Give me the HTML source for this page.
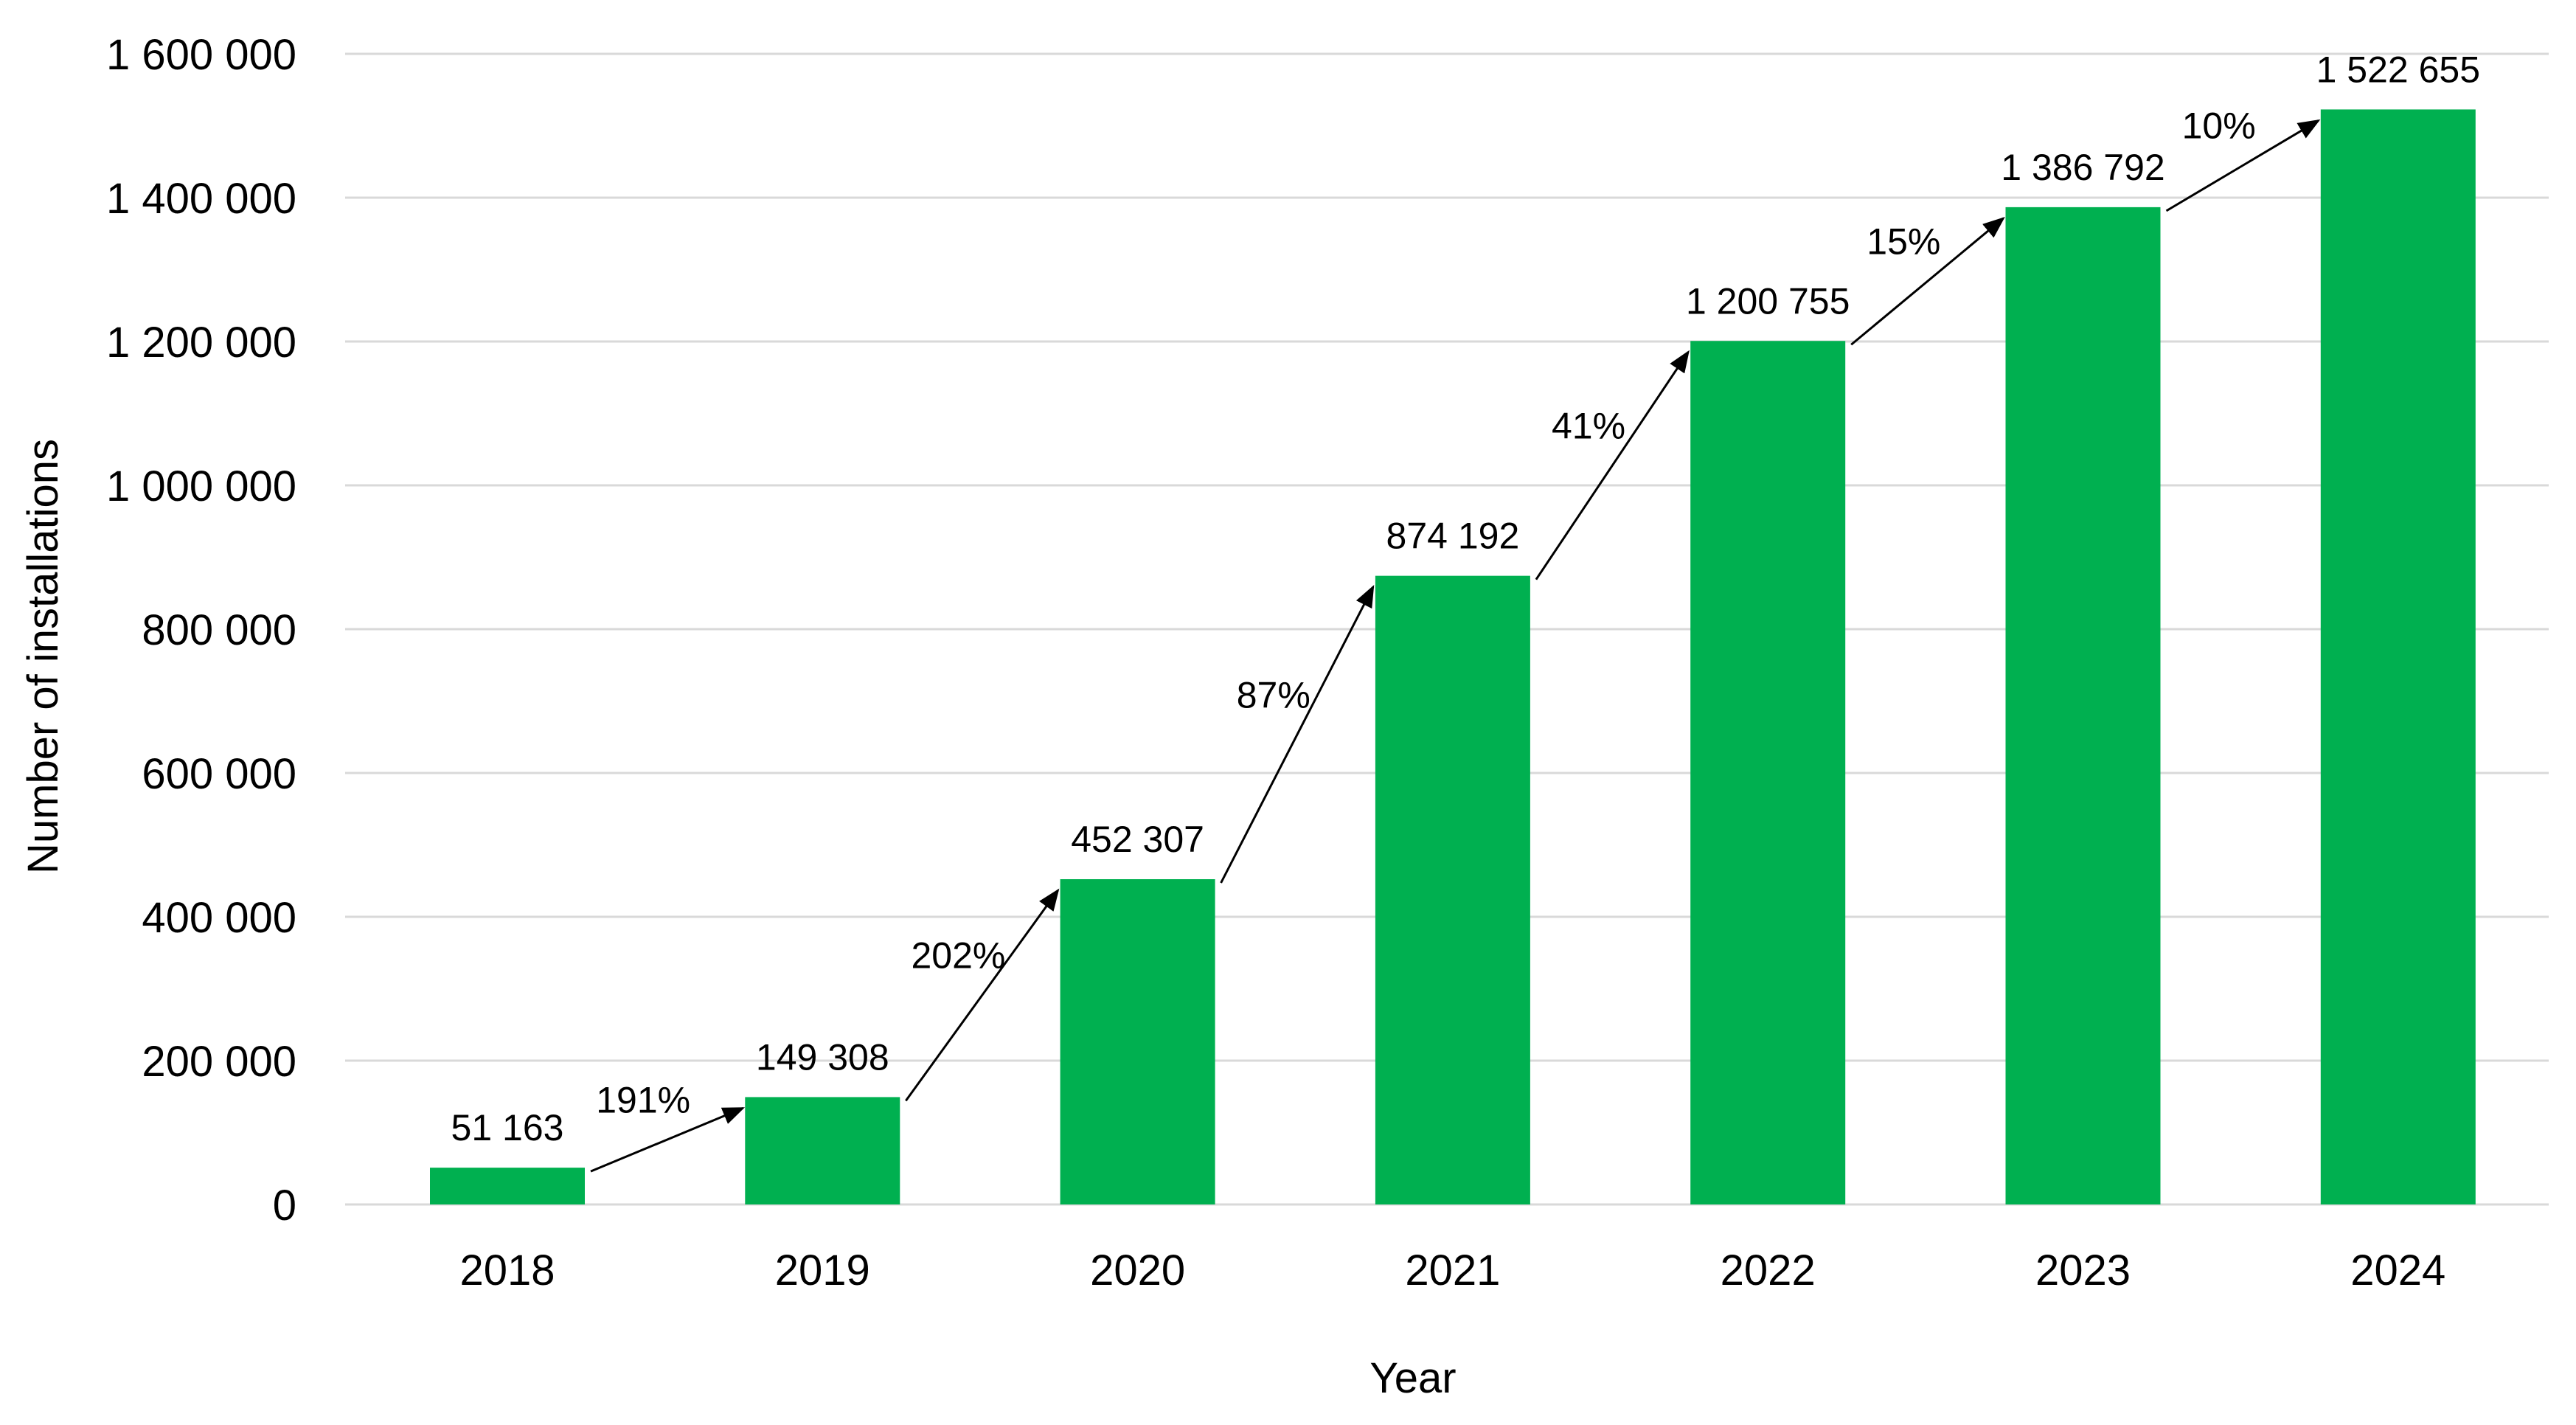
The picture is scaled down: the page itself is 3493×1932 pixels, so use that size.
<!DOCTYPE html>
<html><head><meta charset="utf-8"><style>
html,body{margin:0;padding:0;background:#fff;}
svg{display:block;font-family:"Liberation Sans",sans-serif;}
</style></head><body>
<svg id="chart" width="3493" height="1932" viewBox="0 0 3493 1932" xmlns="http://www.w3.org/2000/svg">
<defs><marker id="ah" viewBox="0 0 10 10" refX="9" refY="5" markerWidth="10" markerHeight="8" orient="auto" markerUnits="strokeWidth" preserveAspectRatio="none"><path d="M0,0 L10,5 L0,10 z" fill="#000"/></marker></defs>
<g id="grid"></g>
<g id="yticks"></g>
<g id="bars"></g>
<g id="arrows"></g>
<g id="xticks"></g>
<text x="1916" y="1888" font-size="58" text-anchor="middle" fill="#000">Year</text>
<text transform="translate(78,890) rotate(-90)" font-size="58" text-anchor="middle" fill="#000">Number of installations</text>
</svg>
<script>
const categories = ["2018","2019","2020","2021","2022","2023","2024"];
const values = [51163,149308,452307,874192,1200755,1386792,1522655];
const valueLabels = ["51 163","149 308","452 307","874 192","1 200 755","1 386 792","1 522 655"];
const growthLabels = ["191%","202%","87%","41%","15%","10%"];
const yTicks = [0,200000,400000,600000,800000,1000000,1200000,1400000,1600000];
const yTickLabels = ["0","200 000","400 000","600 000","800 000","1 000 000","1 200 000","1 400 000","1 600 000"];

const NS="http://www.w3.org/2000/svg";
const y0=1633, y1=73, yMax=1600000;
const gx0=468, gx1=3456;
const firstCenter=688, step=427.3, bw=210;
function yScale(v){return y0-(v/yMax)*(y0-y1);}
function xCenter(i){return firstCenter+i*step;}
function mk(tag,attrs,parent){const e=document.createElementNS(NS,tag);for(const k in attrs)e.setAttribute(k,attrs[k]);parent.appendChild(e);return e;}

const grid=document.getElementById('grid'), yt=document.getElementById('yticks');
yTicks.forEach((t,i)=>{
  const l=mk('line',{x1:gx0,x2:gx1,y1:yScale(t),y2:yScale(t),stroke:'#d9d9d9','stroke-width':3},grid);
  
  
  const tx=mk('text',{x:402,y:yScale(t)+21,'font-size':58,'text-anchor':'end',fill:'#000'},yt);
  tx.textContent=yTickLabels[i];
  
  
});

const bars=document.getElementById('bars'), xt=document.getElementById('xticks');
categories.forEach((c,i)=>{
  const cx=xCenter(i), top=yScale(values[i]);
  const r=mk('rect',{x:cx-bw/2,y:top,width:bw,height:y0-top,fill:'#00B050'},bars);
  
  
  const vl=mk('text',{x:cx,y:top-37,'font-size':50,'text-anchor':'middle',fill:'#000'},bars);
  vl.textContent=valueLabels[i];
  
  
  const xl=mk('text',{x:cx,y:1742,'font-size':58,'text-anchor':'middle',fill:'#000'},xt);
  xl.textContent=c;
  
  
});

const ar=document.getElementById('arrows');
growthLabels.forEach((g,i)=>{
  const xa=xCenter(i)+bw/2+8, ya=yScale(values[i])+5;
  const xb=xCenter(i+1)-bw/2-3, yb=yScale(values[i+1])+15;
  const ln=mk('line',{x1:xa,y1:ya,x2:xb,y2:yb,stroke:'#000','stroke-width':3,'marker-end':'url(#ah)'},ar);
  
  
  const mx=(xa+xb)/2-32, my=(ya+yb)/2-55;
  const t=mk('text',{x:mx,y:my+18,'font-size':50,'text-anchor':'middle',fill:'#000'},ar);
  t.textContent=g;
  
  
});
</script>
</body></html>
